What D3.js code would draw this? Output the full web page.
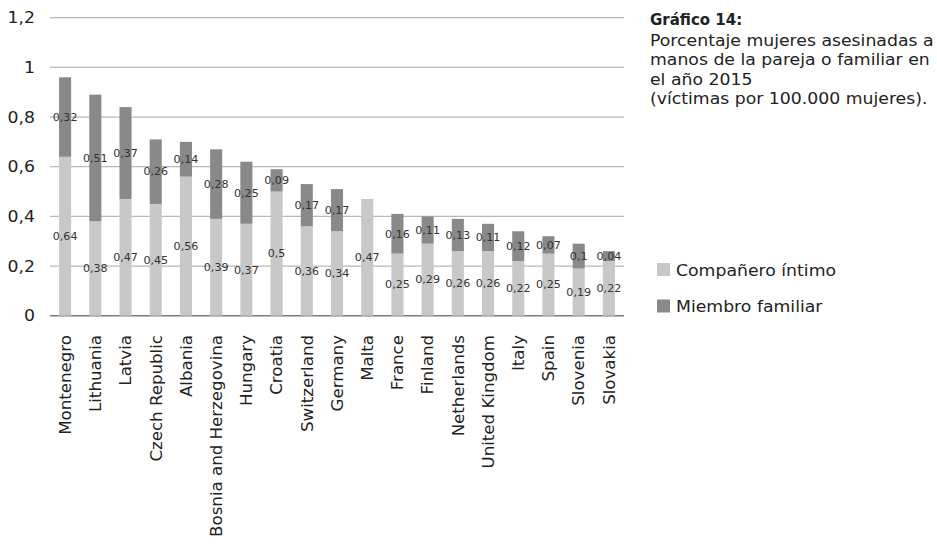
<!DOCTYPE html>
<html><head><meta charset="utf-8">
<script src="https://cdn.jsdelivr.net/npm/d3@7"></script>
<style>
body{margin:0;background:#fff;}
text{font-family:"DejaVu Sans",sans-serif;}
</style></head>
<body><svg id="c" width="937" height="551"></svg>
<script>
const categories=["Montenegro","Lithuania","Latvia","Czech Republic","Albania","Bosnia and Herzegovina","Hungary","Croatia","Switzerland","Germany","Malta","France","Finland","Netherlands","United Kingdom","Italy","Spain","Slovenia","Slovakia"];
const partner=[0.64,0.38,0.47,0.45,0.56,0.39,0.37,0.5,0.36,0.34,0.47,0.25,0.29,0.26,0.26,0.22,0.25,0.19,0.22];
const family=[0.32,0.51,0.37,0.26,0.14,0.28,0.25,0.09,0.17,0.17,0,0.16,0.11,0.13,0.11,0.12,0.07,0.1,0.04];
const yTicks=[0,0.2,0.4,0.6,0.8,1,1.2];
const seriesNames=["Compañero íntimo","Miembro familiar"];
const titleLines=["Porcentaje mujeres asesinadas a","manos de la pareja o familiar en","el año 2015","(víctimas por 100.000 mujeres)."];
const colors=["#c8c8c8","#898989"];

const svg=d3.select("#c");
const m={l:50,r:313};
const W=937;
const x=d3.scaleBand().domain(categories).range([m.l,W-m.r]).paddingInner(0.6).paddingOuter(0.3);
const y=d3.scaleLinear().domain([0,1.2]).range([315.7,17.7]);
const fmt=v=>String(+v.toFixed(2)).replace(".",",");

svg.append("g").selectAll("line").data(yTicks).join("line")
 .attr("x1",m.l).attr("x2",W-m.r).attr("y1",d=>y(d)).attr("y2",d=>y(d))
 .attr("stroke",d=>d===0?"#7a7a7a":"#b8b8b8").attr("stroke-width",d=>d===0?1.5:1.2);
svg.append("g").selectAll("text").data(yTicks).join("text")
 .attr("transform",d=>`translate(35,${y(d)}) scale(1.08,1)`).attr("dy","0.36em").attr("text-anchor","end")
 .attr("font-size",16).attr("fill","#222").text(d=>fmt(d));

const data=categories.map((c,i)=>({c,p:partner[i],f:family[i]}));
const stack=d3.stack().keys(["p","f"])(data);
const g=svg.append("g");
stack.forEach((s,si)=>{
  g.append("g").selectAll("rect").data(s).join("rect")
   .attr("x",d=>x(d.data.c)).attr("width",x.bandwidth())
   .attr("y",d=>y(d[1])).attr("height",d=>y(d[0])-y(d[1]))
   .attr("fill",colors[si]);
});
stack.forEach((s,si)=>{
  g.append("g").selectAll("text").data(s.filter(d=>d[1]-d[0]>0)).join("text")
   .attr("transform",d=>`translate(${x(d.data.c)+x.bandwidth()/2},${y((d[0]+d[1])/2)}) scale(1.06,1)`).attr("dy","0.36em")
   .attr("text-anchor","middle").attr("font-size",10.5).attr("fill","#333")
   .text(d=>fmt(d[1]-d[0]));
});
svg.append("g").selectAll("text").data(categories).join("text")
 .attr("transform",d=>`translate(${x(d)+x.bandwidth()/2},335) rotate(-90) scale(1.04,1)`)
 .attr("dy","0.36em").attr("text-anchor","end").attr("font-size",16).attr("fill","#222").text(d=>d);

svg.append("text").attr("transform",`translate(650,25)`).attr("font-size",15).attr("font-weight","bold").attr("fill","#222").text("Gráfico 14:");
svg.append("g").selectAll("text").data(titleLines).join("text")
 .attr("transform",(d,i)=>`translate(650,${46+i*19.3}) scale(1.08,1)`).attr("font-size",16).attr("fill","#222").text(d=>d);

const lg=svg.append("g").selectAll("g").data(seriesNames).join("g")
 .attr("transform",(d,i)=>`translate(657,${263+i*36.5})`);
lg.append("rect").attr("width",13).attr("height",13).attr("fill",(d,i)=>colors[i]);
lg.append("text").attr("transform",`translate(19,7) scale(1.08,1)`).attr("dy","0.36em").attr("font-size",16).attr("fill","#222").text(d=>d);
</script></body></html>
